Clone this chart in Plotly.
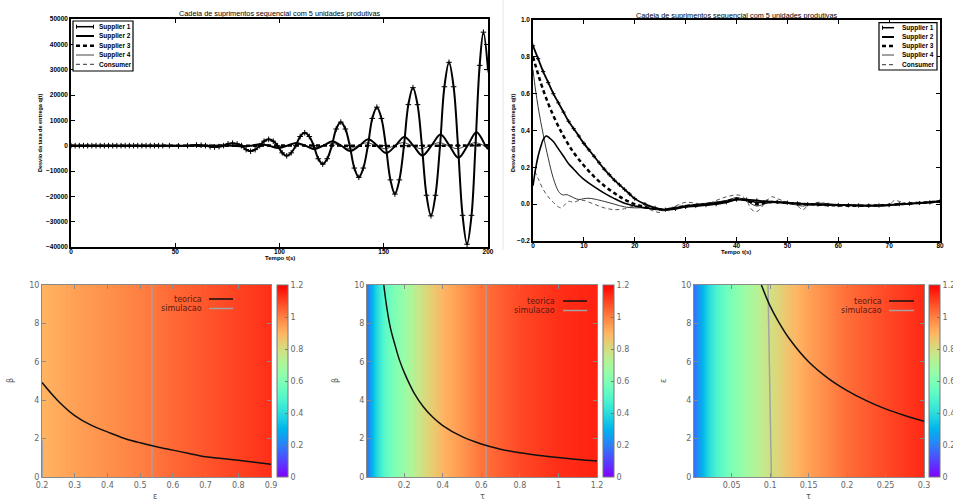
import math
import plotly.graph_objects as go

W, H = 953, 501

# ---------------- top-left panel: deviation q(t), t = 0..200 s ----------------
tl_s1_t = [0, 2, 4, 6, 8, 10, 12, 14, 16, 18, 20, 22, 24, 26, 28, 30, 32, 34, 36, 38, 40, 42, 44,
           47.2, 51.55, 55.9, 60.2, 62.4, 64.5, 66.7, 68.85, 71.0, 73.2,
           75.3, 77.5, 79.7, 81.8, 84.0, 86.15, 88.3, 90.5, 92.6, 94.8,
           97.0, 99.1, 101.3, 103.45, 105.6, 107.8, 109.9, 112.1, 114.3, 116.4,
           118.6, 120.75, 122.9, 125.1, 127.2, 129.4, 131.6, 133.7, 135.9, 138.05,
           140.2, 142.4, 144.5, 146.7, 148.9, 151.0, 153.2, 155.35, 157.5, 159.7,
           161.8, 164.0, 166.2, 168.3, 170.5, 172.65, 174.8, 177.0, 179.1, 181.3,
           183.5, 185.6, 187.8, 189.95, 192.1, 194.0, 196.0, 197.8, 200]
tl_s1 = [0, 0, 0, 0, 0, 0, 0, 0, 0, 0, 0, 0, 0, 0, 0, 0, 0, 0, 0, 0, 0, 0, 0,
         0, -100, 0, 250, 180, 0, -390, -550, -390, 0,
         710, 1000, 710, 0, -1560, -2200, -1560, 0, 1770, 2500,
         1770, 0, -2830, -4000, -2830, 0, 3610, 5100, 3610, 0,
         -5160, -7300, -5160, 0, 6580, 9300, 6580, 0, -8840, -12500,
         -8840, 0, 10750, 15200, 10750, 0, -13500, -19100, -13500, 0,
         16190, 22900, 16190, 0, -19580, -27700, -19580, 0, 23260, 32900,
         23260, 0, -27500, -38900, -27500, 0, 31700, 44800, 30000]

tl_s2_t = [0, 20, 40, 60, 64.7, 69, 73.4, 77.7, 82, 86.4, 90.7, 95, 99.3, 103.7, 108, 112.3,
           116.6, 121, 125.3, 129.6, 133.9, 138.3, 142.6, 146.9, 151.2, 155.6, 159.9, 164.2,
           168.5, 172.9, 177.2, 181.5, 185.8, 190.2, 194.5, 198.8, 200]
tl_s2 = [0, 0, 0, 0, -50, 0, 150, 0, -300, 0, 600, 0, -900, 0, 1100, 0,
         -1400, 0, 1700, 0, -2100, 0, 2500, 0, -2900, 0, 3400, 0,
         -3900, 0, 4400, 0, -4800, 0, 5300, 0, -1400]

tl_s3_t = [0, 40, 80, 120, 160, 200]
tl_s3 = [0, 0, 0, 50, -100, 200]

tl_s4_t = [0, 30, 60, 81.5, 85.8, 90.1, 94.4, 98.8, 103.1, 107.4, 111.7, 116, 120.4, 124.7, 129,
           133.3, 137.7, 142, 146.3, 150.6, 155, 159.3, 163.6, 167.9, 172.3, 176.6, 180.9,
           185.2, 189.6, 193.9, 198.2, 200]
tl_s4 = [0, 0, 0, 0, 0, 300, 0, -550, 0, 750, 0, -900, 0, 1000, 0,
         -1100, 0, 1150, 0, -1200, 0, 1200, 0, -1200, 0, 1200, 0,
         -1200, 0, 1200, 0, -500]

tl_cons_t = [0, 50, 100, 150, 200]
tl_cons = [0, 0, 0, 0, 0]

# ---------------- top-right panel: t = 0..80 s ----------------
tr_s1_t = [0, 1, 2, 3, 4, 5, 6, 7, 8, 9, 10, 11, 12, 13, 14, 15, 16, 17, 18, 19, 20,
           22, 24, 26, 28, 30, 32, 34, 36, 38, 40, 42, 44, 46, 48, 50, 52, 54, 56, 58, 60,
           62, 64, 66, 68, 70, 72, 74, 76, 78, 80]
tr_s1 = [0.86, 0.79, 0.72, 0.66, 0.60, 0.55, 0.50, 0.45, 0.41, 0.37, 0.33, 0.295, 0.26, 0.225,
         0.19, 0.16, 0.13, 0.105, 0.08, 0.055, 0.03,
         0.0, -0.02, -0.03, -0.025, -0.015, -0.01, -0.005, 0.0, 0.01, 0.025,
         0.025, 0.02, 0.015, 0.012, 0.008, 0.004, 0.0, -0.002, -0.004, -0.005,
         -0.006, -0.007, -0.008, -0.007, -0.005, 0.0, 0.003, 0.006, 0.01, 0.015]

tr_s2_t = [0, 0.5, 1, 1.5, 2, 2.6, 3.2, 4, 5, 6, 7, 8, 9, 10, 12, 14, 16, 18, 20, 22,
           24, 26, 28, 30, 34, 38, 40, 42, 44, 46, 50, 54, 58, 62, 66, 70, 74, 78, 80]
tr_s2 = [0.10, 0.19, 0.26, 0.31, 0.35, 0.37, 0.36, 0.34, 0.30, 0.26, 0.22, 0.19, 0.16, 0.135,
         0.095, 0.06, 0.03, 0.005, -0.01, -0.02,
         -0.025, -0.03, -0.02, -0.01, 0.0, 0.015, 0.025, 0.02, 0.01, 0.012,
         0.006, 0.0, -0.004, -0.006, -0.008, -0.005, 0.002, 0.01, 0.015]

tr_s3_t = [0, 2, 4, 6, 8, 10, 12, 14, 16, 18, 20, 22, 24, 26, 28, 30,
           34, 38, 40, 42, 44, 46, 48, 50, 54, 58, 62, 66, 70, 74, 78, 80]
tr_s3 = [0.80, 0.62, 0.48, 0.37, 0.28, 0.21, 0.15, 0.10, 0.06, 0.025, 0.0, -0.015, -0.025,
         -0.03, -0.02, -0.01,
         0.0, 0.015, 0.03, 0.02, 0.0, 0.01, 0.012, 0.006,
         0.0, -0.005, -0.008, -0.008, -0.004, 0.004, 0.01, 0.015]

tr_s4_t = [0, 0.5, 1, 1.5, 2, 2.5, 3, 3.5, 4, 4.5, 5, 5.5, 6, 6.5, 7, 8, 9, 10, 11, 12,
           14, 16, 18, 20, 22, 24, 26, 28, 30, 34, 38, 40, 42, 43, 44, 46, 48, 50, 53, 56,
           60, 64, 68, 72, 76, 80]
tr_s4 = [0.73, 0.62, 0.53, 0.45, 0.38, 0.31, 0.25, 0.19, 0.14, 0.10,
         0.07, 0.055, 0.05, 0.052, 0.048, 0.035, 0.025, 0.03, 0.032, 0.028,
         0.015, 0.0, -0.015, -0.02, -0.02, -0.03, -0.03, -0.02, -0.01, 0.005,
         0.02, 0.035, 0.02, 0.0, -0.01, 0.005, 0.012, 0.008, -0.01, 0.005,
         -0.002, -0.006, -0.008, 0.0, 0.006, 0.015]

tr_cons_t = [0.3, 1, 2, 3, 4, 5, 5.5, 6, 7, 8, 9, 10, 12, 14, 16, 18, 20, 22, 24, 25,
             26, 28, 30, 32, 34, 36, 38, 40, 41, 42, 43, 44, 46, 47, 48, 50, 52, 53, 54, 56,
             58, 60, 62, 64, 66, 68, 70, 71, 72, 74, 76, 78, 80]
tr_cons = [0.18, 0.14, 0.08, 0.04, 0.01, -0.015, -0.02, -0.01, 0.015, 0.01,
           0.02, 0.02, 0.0, -0.02, -0.03, -0.025, -0.01, -0.02, -0.04, -0.045,
           -0.03, -0.01, 0.01, 0.005, 0.0, 0.02, 0.04, 0.05, 0.045, 0.02,
           -0.03, -0.04, 0.02, 0.04, 0.03, 0.01, -0.01, -0.03, -0.01, 0.01,
           0.0, -0.01, -0.005, -0.01, -0.008, -0.01, -0.005, 0.02, 0.015, 0.0,
           0.01, 0.015, 0.02]

series_names = ["Supplier 1", "Supplier 2", "Supplier 3", "Supplier 4", "Consumer"]
title_text = "Cadeia de suprimentos sequencial com 5 unidades produtivas"

# ---------------- bottom panels (maps) ----------------
bl_map_eps = [0.2, 0.3, 0.4, 0.5, 0.6, 0.7, 0.8, 0.9]
bl_map_val = [0.9, 0.94, 0.97, 1.0, 1.04, 1.07, 1.1, 1.13]
bl_teo_eps = [0.2, 0.25, 0.3, 0.35, 0.4, 0.45, 0.5, 0.55, 0.6, 0.65, 0.7, 0.75, 0.8, 0.85, 0.9]
bl_teo_beta = [4.92, 3.95, 3.2, 2.7, 2.35, 2.02, 1.78, 1.58, 1.40, 1.22, 1.05, 0.96, 0.87, 0.77, 0.66]
bl_sim_eps = [0.536, 0.536, None, 0.201, 0.201]
bl_sim_beta = [0, 10, None, 0, 1.9]

bm_map_tau = [0.007, 0.03, 0.05, 0.08, 0.1, 0.15, 0.2, 0.3, 0.4, 0.5, 0.6, 0.8, 1.0, 1.2]
bm_map_val = [0.18, 0.28, 0.36, 0.46, 0.52, 0.6, 0.66, 0.8, 0.9, 0.96, 1.02, 1.09, 1.13, 1.15]
bm_teo_tau = [0.094, 0.11, 0.13, 0.15, 0.175, 0.2, 0.25, 0.3, 0.35, 0.4, 0.5, 0.6, 0.7, 0.8, 0.9, 1.0, 1.1, 1.2]
bm_teo_beta = [10, 8.8, 7.7, 6.95, 6.1, 5.45, 4.4, 3.65, 3.1, 2.68, 2.1, 1.72, 1.45, 1.26, 1.12, 1.01, 0.91, 0.83]
bm_sim_tau = [0.624, 0.624]
bm_sim_beta = [0, 10]

br_map_tau = [0.001, 0.01, 0.02, 0.03, 0.05, 0.075, 0.1, 0.125, 0.15, 0.2, 0.25, 0.3]
br_map_val = [0.18, 0.28, 0.4, 0.48, 0.6, 0.7, 0.79, 0.87, 0.94, 1.03, 1.09, 1.14]
br_teo_tau = [0.0886, 0.1, 0.11, 0.125, 0.15, 0.175, 0.2, 0.225, 0.25, 0.275, 0.3]
br_teo_eps = [10, 8.9, 8.15, 7.2, 6.0, 5.15, 4.5, 3.98, 3.55, 3.2, 2.9]
br_sim_tau = [0.0972, 0.0985, 0.1, 0.1016]
br_sim_eps = [10, 7, 4, 0]

cbar_ticks = [0, 0.2, 0.4, 0.6, 0.8, 1.0, 1.2]
cbar_labels = ["0", "0.2", "0.4", "0.6", "0.8", "1", "1.2"]


# ---------------- helpers ----------------
def px(x):
    return x / W


def py(y):
    return 1 - y / H


def gp_color(f):
    r = min(1, abs(2 * f - 0.5))
    g = max(0, math.sin(math.pi * f))
    b = max(0, math.cos(math.pi * f / 2))
    return "rgb(%d,%d,%d)" % (round(r * 255), round(g * 255), round(b * 255))


colorscale = [[i / 20, gp_color(i / 20)] for i in range(21)]

MPL = "Liberation Sans"
GNU = "DejaVu Sans"
DASH = "4px,3px"

fig = go.Figure()


def line_trace(x, y, ax, width, dash="solid", color="black", msize=0, shape="spline"):
    kw = dict(x=x, y=y, xaxis="x" + ax, yaxis="y" + ax, showlegend=False, hoverinfo="skip",
              line=dict(color=color, width=width, dash=dash, shape=shape))
    if msize:
        kw["mode"] = "lines+markers"
        kw["marker"] = dict(symbol="cross-thin", size=msize, line=dict(color=color, width=1))
    else:
        kw["mode"] = "lines"
    fig.add_trace(go.Scatter(**kw))


# top-left
line_trace(tl_cons_t, tl_cons, "", 1, DASH, "#333")
line_trace(tl_s4_t, tl_s4, "", 1, "solid", "#444")
line_trace(tl_s3_t, tl_s3, "", 2.5, DASH)
line_trace(tl_s2_t, tl_s2, "", 2)
line_trace(tl_s1_t, tl_s1, "", 2, msize=4)

# top-right
line_trace(tr_cons_t, tr_cons, "2", 1, DASH, "#555")
line_trace(tr_s4_t, tr_s4, "2", 1, "solid", "#333")
line_trace(tr_s3_t, tr_s3, "2", 2.5, DASH)
line_trace(tr_s2_t, tr_s2, "2", 1.6)
line_trace(tr_s1_t, tr_s1, "2", 1.8, msize=3)


def cbar(x_left):
    return dict(x=px(x_left), xanchor="left", y=py(381), yanchor="middle",
                len=192 / H, lenmode="fraction", thickness=11, thicknessmode="pixels",
                xpad=0, ypad=0, outlinewidth=1, outlinecolor="#777",
                ticks="inside", ticklen=3, tickcolor="#777",
                tickvals=cbar_ticks, ticktext=cbar_labels,
                tickfont=dict(family=GNU, size=8, color="#666"))


def add_map(xs, vals, ax, cb_left):
    fig.add_trace(go.Heatmap(x=xs, y=[0, 10], z=[vals, vals], zmin=0, zmax=1.2,
                             colorscale=colorscale, zsmooth="best", hoverinfo="skip",
                             xaxis="x" + ax, yaxis="y" + ax, colorbar=cbar(cb_left)))


add_map(bl_map_eps, bl_map_val, "3", 277)
add_map(bm_map_tau, bm_map_val, "4", 603)
add_map(br_map_tau, br_map_val, "5", 929)

SIM = "#a3a3a3"
line_trace(bl_sim_eps, bl_sim_beta, "3", 1.5, color=SIM, shape="linear")
line_trace(bl_teo_eps, bl_teo_beta, "3", 1.5, color="#111", shape="spline")
line_trace(bm_sim_tau, bm_sim_beta, "4", 1.5, color=SIM, shape="linear")
line_trace(bm_teo_tau, bm_teo_beta, "4", 1.5, color="#111", shape="spline")
line_trace(br_sim_tau, br_sim_eps, "5", 1.5, color=SIM, shape="linear")
line_trace(br_teo_tau, br_teo_eps, "5", 1.5, color="#111", shape="spline")

# ---------------- axes ----------------
top_ax = dict(showline=True, linecolor="black", linewidth=1.5, mirror="allticks", ticks="inside",
              ticklen=4, tickwidth=1, tickcolor="black", showgrid=False, zeroline=False,
              tickfont=dict(family=MPL, size=6.5, color="black", weight="bold"))
bot_ax = dict(showline=True, linecolor="#8a8a8a", linewidth=1, mirror="allticks", ticks="inside",
              ticklen=4, tickwidth=1, tickcolor="#8a8a8a", showgrid=False, zeroline=False,
              tickfont=dict(family=GNU, size=8, color="#666"))

fig.update_layout(
    width=W, height=H, margin=dict(l=0, r=0, t=0, b=0, autoexpand=False), autosize=False,
    paper_bgcolor="white", plot_bgcolor="white", showlegend=False,
    xaxis=dict(domain=[px(71), px(488)], anchor="y", range=[0, 200],
               tickvals=[0, 50, 100, 150, 200], ticklabelstandoff=-3, **top_ax),
    yaxis=dict(domain=[py(247), py(19)], anchor="x", range=[-40000, 50000], dtick=10000,
               tickformat="d", **top_ax),
    xaxis2=dict(domain=[px(533), px(940)], anchor="y2", range=[0, 80], dtick=10,
                ticklabelstandoff=-3, **top_ax),
    yaxis2=dict(domain=[py(241), py(20)], anchor="x2", range=[-0.2, 1.0], dtick=0.2,
                tickformat=".1f", **top_ax),
    xaxis3=dict(domain=[px(42), px(271)], anchor="y3", range=[0.2, 0.9],
                tickvals=[0.2, 0.3, 0.4, 0.5, 0.6, 0.7, 0.8, 0.9], **bot_ax),
    yaxis3=dict(domain=[py(477), py(285)], anchor="x3", range=[0, 10], dtick=2, **bot_ax),
    xaxis4=dict(domain=[px(367), px(597)], anchor="y4", range=[0.007, 1.2],
                tickvals=[0.2, 0.4, 0.6, 0.8, 1.0, 1.2],
                ticktext=["0.2", "0.4", "0.6", "0.8", "1", "1.2"], **bot_ax),
    yaxis4=dict(domain=[py(477), py(285)], anchor="x4", range=[0, 10], dtick=2, **bot_ax),
    xaxis5=dict(domain=[px(694), px(924)], anchor="y5", range=[0.001, 0.3],
                tickvals=[0.05, 0.1, 0.15, 0.2, 0.25, 0.3],
                ticktext=["0.05", "0.1", "0.15", "0.2", "0.25", "0.3"], **bot_ax),
    yaxis5=dict(domain=[py(477), py(285)], anchor="x5", range=[0, 10], dtick=2, **bot_ax),
)

# ---------------- annotations & legend decorations ----------------
ann = []
shapes = []


def text(x, y, s, size, family, color="black", xanchor="center", angle=0, weight="normal"):
    ann.append(dict(x=px(x), y=py(y), xref="paper", yref="paper", text=s, showarrow=False,
                    xanchor=xanchor, yanchor="middle", textangle=angle,
                    font=dict(family=family, size=size, color=color, weight=weight)))


def hline(x0, x1, y, color, width, dash="solid"):
    shapes.append(dict(type="line", xref="paper", yref="paper", x0=px(x0), x1=px(x1),
                       y0=py(y), y1=py(y), line=dict(color=color, width=width, dash=dash),
                       layer="above"))


def vline(x, y0, y1, color, width):
    shapes.append(dict(type="line", xref="paper", yref="paper", x0=px(x), x1=px(x),
                       y0=py(y0), y1=py(y1), line=dict(color=color, width=width), layer="above"))


# titles
text(280, 14, title_text, 7.3, MPL)
text(737, 15, title_text, 7.3, MPL)
text(280, 258, "Tempo t(s)", 6, MPL, weight="bold")
text(736, 252, "Tempo t(s)", 6, MPL, weight="bold")
text(40, 133, "Desvio da taxa de entrega q(t)", 5.5, MPL, angle=-90, weight="bold")
text(513, 133, "Desvio da taxa de entrega q(t)", 5.5, MPL, angle=-90, weight="bold")

# separator between top panels
shapes.append(dict(type="line", xref="paper", yref="paper", x0=px(503), x1=px(503),
                   y0=py(250), y1=py(0), line=dict(color="#e6e6e6", width=1)))

# top legends
leg_styles = [(1.5, "solid", "black"), (2, "solid", "black"), (2.5, DASH, "black"),
              (1, "solid", "#444"), (1, DASH, "#333")]


def top_legend(bx0, bx1, by0, by1, ys, sx0, sx1, tx, both_ends):
    shapes.append(dict(type="rect", xref="paper", yref="paper", x0=px(bx0), x1=px(bx1),
                       y0=py(by1), y1=py(by0), line=dict(color="black", width=1.2),
                       fillcolor="white", layer="above"))
    for i, name in enumerate(series_names):
        w, d, c = leg_styles[i]
        hline(sx0, sx1, ys[i], c, w, d)
        if i == 0:
            vline(sx0 + 0.5, ys[i] - 2, ys[i] + 2, "black", 1)
            if both_ends:
                vline(sx1 - 0.5, ys[i] - 2, ys[i] + 2, "black", 1)
        text(tx, ys[i], name, 6.5, MPL, xanchor="left", weight="bold")


top_legend(73, 133, 21, 71, [26.7, 36, 45.7, 55, 64.3], 76, 94, 96.5, True)
top_legend(879, 937, 22.7, 70, [27.7, 37, 46, 55, 64.7], 882, 894, 899.5, False)

# bottom legends and axis titles
LEGC = "#5a1a10"
for (tx_right, ty, s0, s1) in [(204, 299, 209, 233), (557, 301, 563, 587), (884, 301, 889, 914)]:
    text(tx_right, ty, "teorica", 8, GNU, color=LEGC, xanchor="right")
    hline(s0, s1, ty, "#111", 1.5)
    text(tx_right, ty + 9.5, "simulacao", 8, GNU, color=LEGC, xanchor="right")
    hline(s0, s1, ty + 9.5, SIM, 1.5)

text(155, 496, "ε", 8, GNU, color="#555")
text(482, 496, "τ", 8, GNU, color="#555")
text(808, 496, "τ", 8, GNU, color="#555")
text(10, 381, "β", 8, GNU, color="#555", angle=-90)
text(335, 381, "β", 8, GNU, color="#555", angle=-90)
text(663, 381, "ε", 8, GNU, color="#555", angle=-90)

fig.update_layout(annotations=ann, shapes=shapes)
fig.write_html("out.html", config={"displayModeBar": False},
               post_script="document.body.style.margin='0px';")
